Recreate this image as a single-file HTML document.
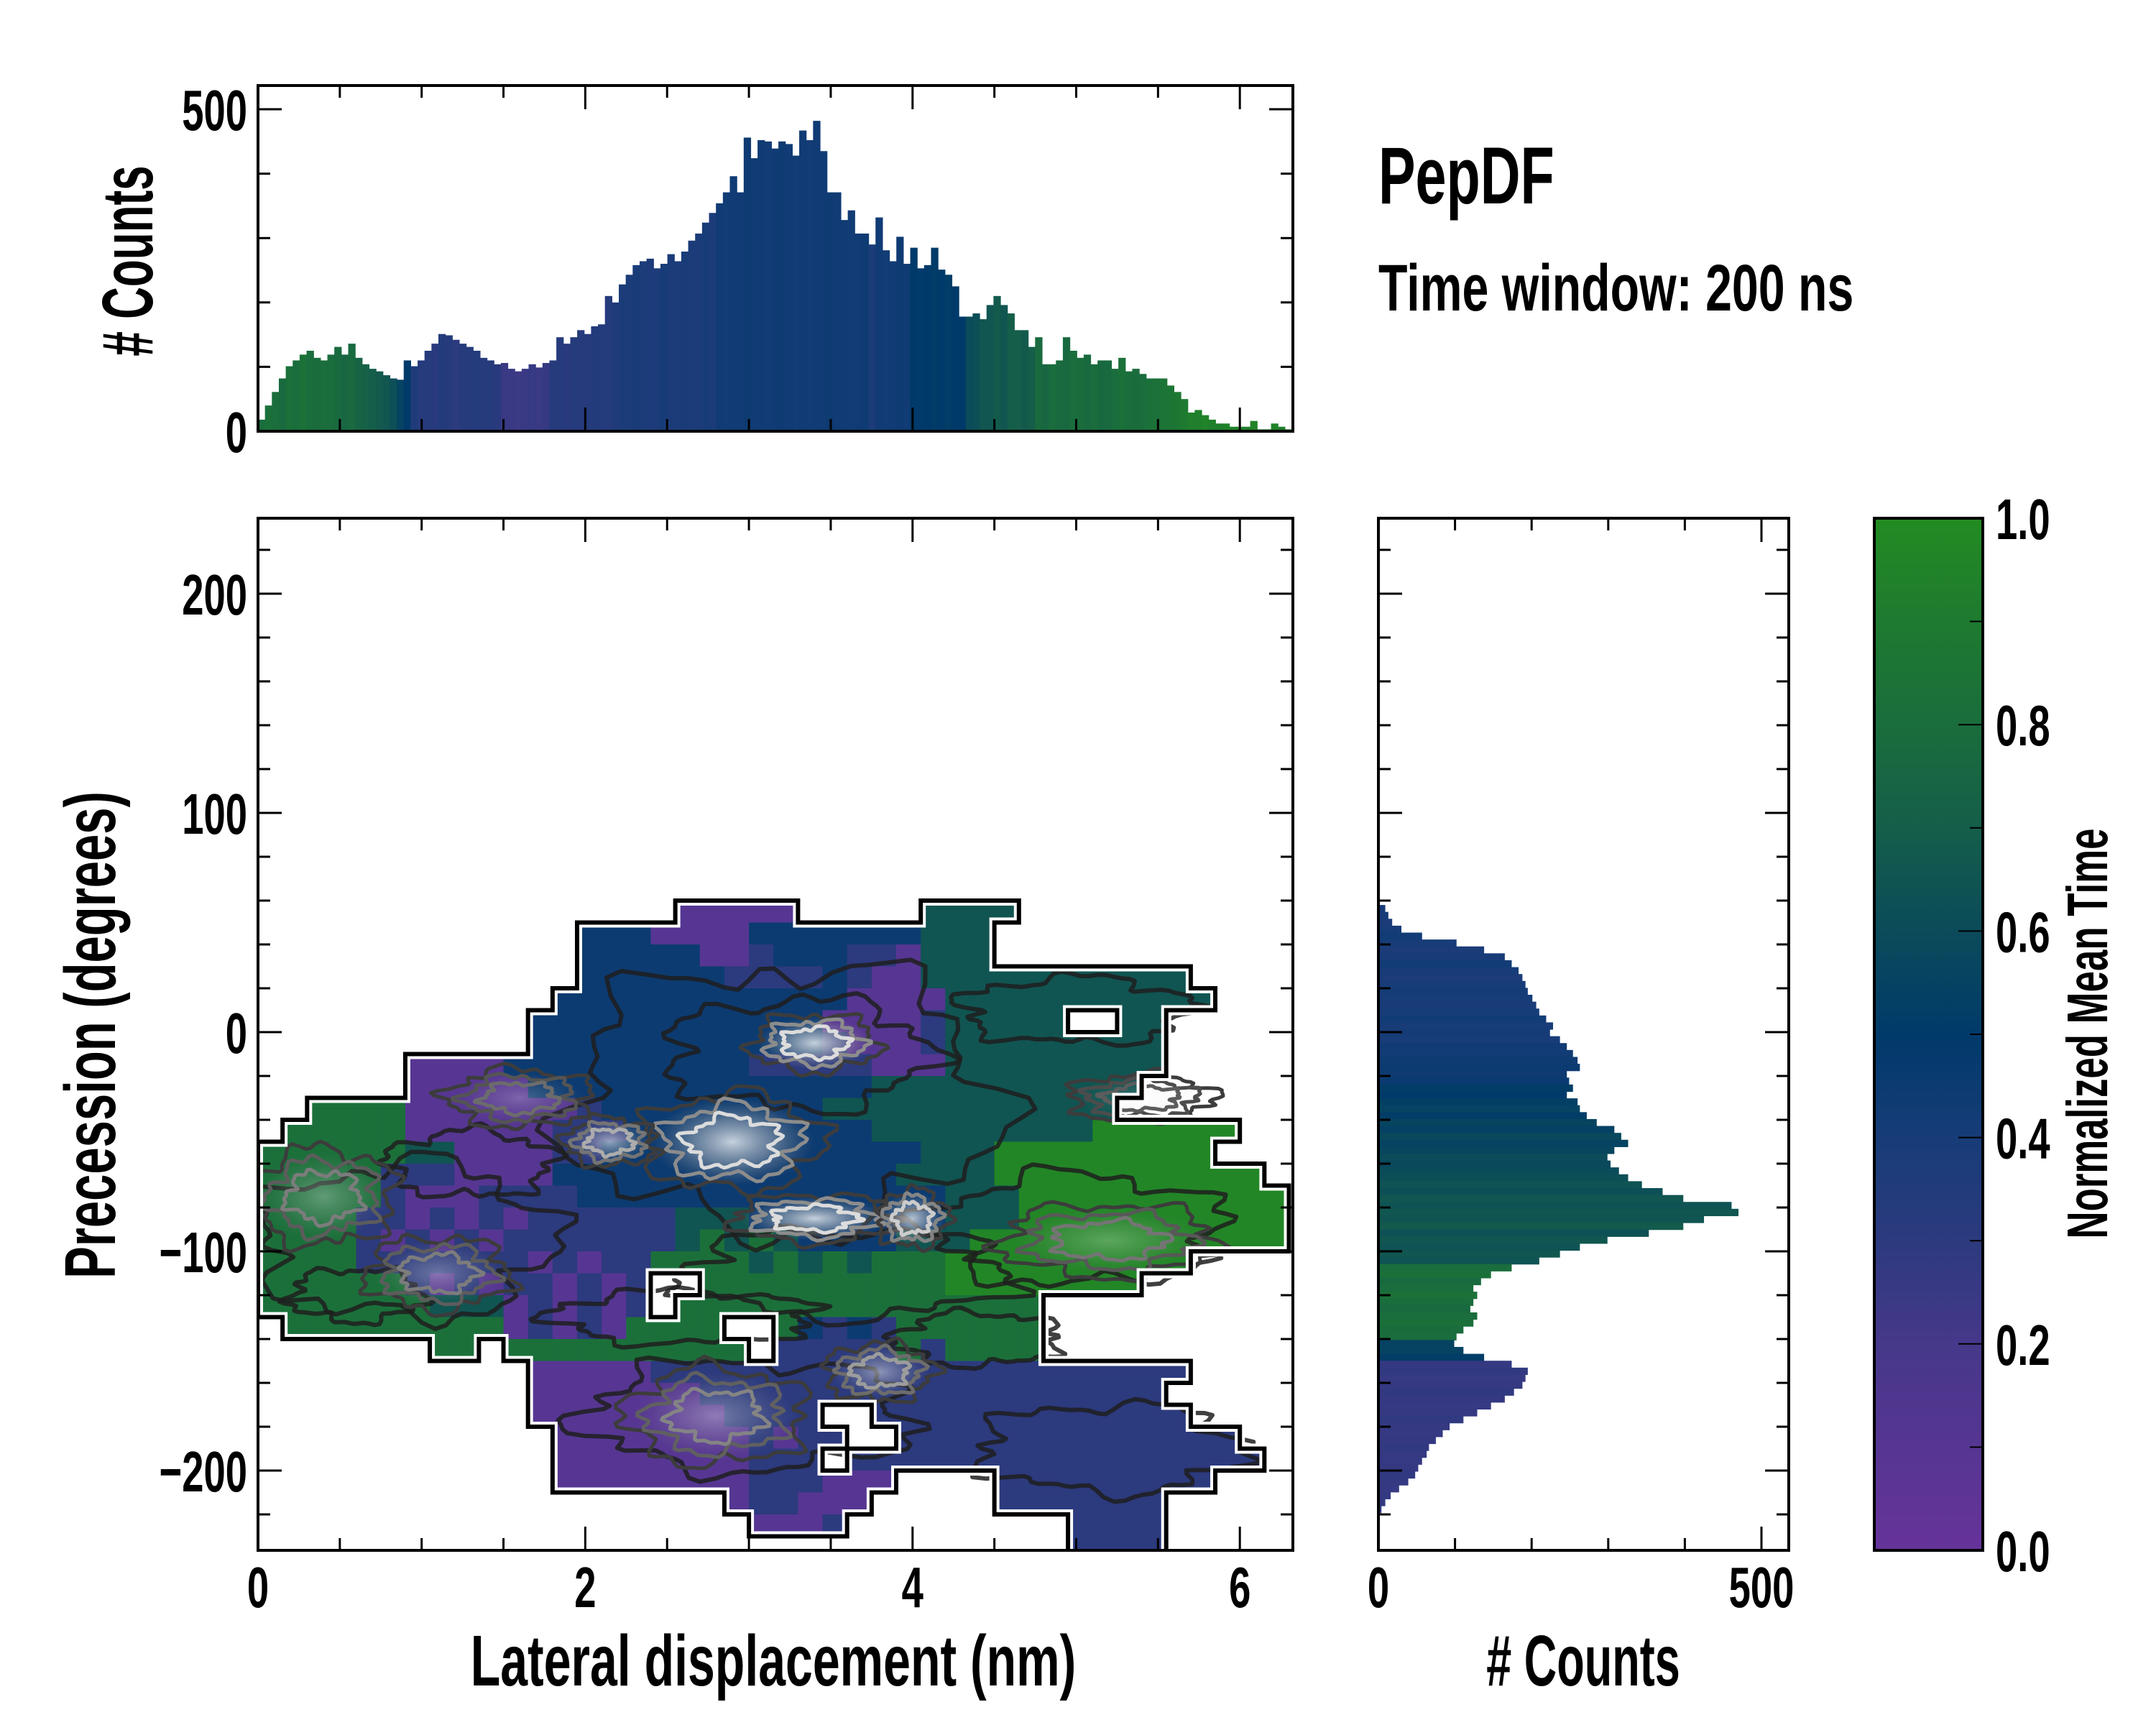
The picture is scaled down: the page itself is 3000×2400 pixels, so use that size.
<!DOCTYPE html>
<html><head><meta charset="utf-8"><style>
html,body{margin:0;padding:0;background:#fff;}
svg{display:block;}
text{font-family:"Liberation Sans",sans-serif;font-weight:bold;fill:#000;}
</style></head><body>
<svg id="fig" xmlns="http://www.w3.org/2000/svg" width="3000" height="2400" viewBox="0 0 3000 2400">
<defs>
<clipPath id="mainClip"><rect x="359" y="721" width="1440" height="1436"/></clipPath>
<linearGradient id="cbGrad" x1="0" y1="1" x2="0" y2="0">
<stop offset="0" stop-color="#66339a"/><stop offset="0.2" stop-color="#46388a"/><stop offset="0.3" stop-color="#2c3a7e"/><stop offset="0.4" stop-color="#173c78"/><stop offset="0.5" stop-color="#003a6a"/><stop offset="0.6" stop-color="#0b4b5a"/><stop offset="0.7" stop-color="#155e4a"/><stop offset="0.8" stop-color="#1a6d3c"/><stop offset="0.9" stop-color="#1e7a30"/><stop offset="1" stop-color="#238b22"/>
</linearGradient>
<radialGradient id="hot"><stop offset="0" stop-color="#ffffff" stop-opacity="0.9"/><stop offset="0.5" stop-color="#cccccc" stop-opacity="0.5"/><stop offset="1" stop-color="#888888" stop-opacity="0"/></radialGradient>
</defs>
<g id="topHist"></g>
<g id="mainPlot"></g>
<g id="rightHist"></g>
<g id="cbar"></g>
<g id="labels"></g>
</svg>
<script>
// ---------- data ----------
const topCounts = [18,40,61,82,101,110,119,125,114,110,119,131,119,136,114,104,97,93,87,82,80,110,101,110,125,136,151,149,142,136,131,125,114,110,104,106,97,93,97,104,99,106,110,146,136,146,157,151,163,166,210,200,228,243,258,264,268,253,260,275,264,279,296,307,324,339,354,371,396,371,456,424,452,450,439,450,446,428,467,452,482,435,371,371,328,343,307,307,290,332,281,264,302,260,285,253,258,285,251,243,225,178,178,183,174,196,210,196,183,157,157,131,146,104,104,110,146,125,114,119,104,110,110,97,114,93,97,89,82,82,82,71,61,50,29,33,25,18,12,12,7,7,7,16,3,3,12,7,3];
const topMeanTime = [0.8,0.82,0.8,0.78,0.82,0.8,0.83,0.8,0.79,0.81,0.8,0.78,0.76,0.78,0.74,0.72,0.7,0.68,0.66,0.62,0.55,0.5,0.36,0.33,0.33,0.32,0.35,0.33,0.3,0.33,0.33,0.34,0.33,0.33,0.32,0.25,0.25,0.24,0.25,0.26,0.25,0.27,0.33,0.33,0.32,0.34,0.33,0.33,0.35,0.34,0.33,0.36,0.38,0.38,0.39,0.38,0.37,0.38,0.4,0.38,0.38,0.39,0.38,0.38,0.4,0.38,0.43,0.42,0.43,0.43,0.44,0.43,0.43,0.42,0.43,0.44,0.43,0.42,0.43,0.42,0.43,0.43,0.44,0.43,0.43,0.42,0.43,0.44,0.38,0.43,0.42,0.43,0.44,0.43,0.5,0.49,0.5,0.51,0.5,0.52,0.5,0.5,0.6,0.62,0.66,0.66,0.68,0.66,0.7,0.7,0.68,0.7,0.78,0.76,0.8,0.78,0.77,0.8,0.79,0.78,0.8,0.77,0.78,0.8,0.82,0.8,0.79,0.8,0.82,0.83,0.85,0.86,0.88,0.9,0.93,0.93,0.95,0.93,0.92,0.94,0.95,0.96,0.93,0.95,0.93,0.94,0.95,0.93,0.95];
const topBinWidth = 0.0424;

const rightCounts = [9,13,18,30,57,102,138,165,174,183,188,192,195,201,206,210,219,228,224,237,246,254,260,263,246,249,254,246,260,263,272,285,308,317,326,308,299,303,314,326,344,371,398,461,470,425,398,353,299,263,237,210,174,147,134,124,129,124,120,129,124,111,102,99,111,138,174,195,192,188,177,165,147,129,111,93,84,75,66,63,57,52,48,39,27,16,9,4];
const rightMeanTime = [0.4,0.4,0.38,0.4,0.42,0.4,0.38,0.4,0.42,0.4,0.38,0.4,0.41,0.4,0.39,0.4,0.42,0.4,0.41,0.4,0.43,0.42,0.44,0.45,0.44,0.46,0.52,0.5,0.53,0.55,0.52,0.56,0.54,0.58,0.55,0.57,0.6,0.58,0.6,0.62,0.64,0.62,0.66,0.64,0.66,0.65,0.68,0.63,0.66,0.64,0.66,0.64,0.8,0.82,0.78,0.8,0.83,0.8,0.78,0.8,0.82,0.79,0.8,0.55,0.55,0.52,0.27,0.28,0.26,0.27,0.28,0.27,0.26,0.27,0.28,0.27,0.26,0.27,0.28,0.27,0.26,0.27,0.28,0.27,0.26,0.27,0.28,0.27];
const rightBinTop = 58;
const rightBinHeight = 3.15;

// heatmap: rows from +60 deg downward (10 deg each), cols 0.15 nm each
const gridRows = [
".................ppppp.....tttt...........",
".............nnnppppnnnnnnnttt............",
".............nnnnnppbnnnbbpttt............",
".............nnnnnnbbbbnbppttttttttttt....",
"............nnnnnnnnnnnnppppttttttttttt...",
"...........nnnnnnnnnnnnppppbttttt..tt.....",
"...........nnnnnnnnnnnnbpppbttttttttt.....",
"......ppppnnnnnnnnnnbbbbbpppttttttttt.....",
"......pppppnnnnnnnnnnnnnnttttttttttt......",
"..ggggpppppppbnnnnnnnnntttttttttttt.......",
".gggggppppppbbbnnnnnnnnnntttttttttGGGGGG...",
"ggggggttppppbbnnnnnnnnnnnnntttGGGGGGGGG...",
"gggggbbbppppnnnnnnnnnnnnnnttttGGGGGGGGGGG.",
"gggggbpppbbbbnnnnnnnnnnnnnnntttGGGGGGGGGGG",
"ggggbbpbpbpbbbbbbtttnnnnnnnntttGGGGGGGGGGG",
"ggggbpbpbpbbbbbbbtgtgtnnnntttGGGGGGGGGGGGG",
"ggggbbbbbbbpbpbbggggtgtgtgggGGGGGGGGGG....",
"ggggggbpbpbbpbpb..ggggggggggGGGGGGGG......",
"gggggggtttpbpbpb.ggggggggggggggg..........",
".gggggggggpbpbpgggg..gnbnbgggggg..........",
".......gg.gggggggggg.bbbbbgbgggg..........",
"...........pppppbbbbbbbbbbbbbbbbbbbbbb.....",
"...........pppppppbbbbbbbbbbbbbbbbbbb.....",
"...........ppppppppbbbb..bbbbbbbbbbbbb....",
"............ppppppppbpbb..bbbbbbbbbbbbbb..",
"............ppppppppbbb.bbbbbbbbbbbbbbbbb.",
"............ppppppppbbbppp....bbbbbbbbb...",
"...................pbbppp.....bbbbbbb.....",
"....................pppb.........bbbb.....",
".................................bbbb....."
];
const gridTop = 60, gridRowDeg = 10, gridColNm = 0.15;
const cellValue = {p:0.1, b:0.3, n:0.45, t:0.65, g:0.82, G:0.97};

// density hotspots: center x (nm), center y (deg), radius x (nm), radius y (deg), strength
const hotX = [3.4, 2.9, 2.15, 3.4, 4.0, 0.4, 1.1, 3.8, 2.8, 5.2, 5.4, 1.6];
const hotY = [-5, -50, -50, -85, -85, -75, -110, -155, -175, -95, -30, -30];
const hotRX = [0.35, 0.5, 0.25, 0.45, 0.2, 0.4, 0.4, 0.3, 0.5, 0.6, 0.4, 0.4];
const hotRY = [12, 20, 10, 10, 12, 20, 15, 12, 20, 15, 10, 12];
const hotS = [1, 1, 0.7, 1, 0.9, 0.4, 0.4, 0.6, 0.45, 0.35, 0.2, 0.3];
// broad dark contours
const ringX = [3.2, 0.9, 5.0, 3.0, 5.2, 5.0, 2.6, 3.6, 3.3, 1.3, 4.4, 0.6];
const ringY = [-30, -95, -90, -175, -190, 10, -130, -110, -10, -60, -140, -120];
const ringRX = [1.3, 0.9, 0.9, 1.0, 0.8, 0.7, 0.8, 1.0, 0.8, 0.5, 0.5, 0.4];
const ringRY = [60, 35, 25, 25, 20, 15, 12, 20, 25, 15, 12, 12];

// ---------- scales ----------
const NS = "http://www.w3.org/2000/svg";
const xs = v => 359 + v * 227.7;
const ys = d => 1436 - d * 3.05;
const topY = c => 600 - c * 0.896;
const rX = c => 1918 + c * 1.066;
const cbY = v => 2157 - v * 1436;
const stops = [[0,[0x66,0x33,0x9a]],[0.2,[0x46,0x38,0x8a]],[0.3,[0x2c,0x3a,0x7e]],[0.4,[0x17,0x3c,0x78]],[0.5,[0x00,0x3a,0x6a]],[0.6,[0x0b,0x4b,0x5a]],[0.7,[0x15,0x5e,0x4a]],[0.8,[0x1a,0x6d,0x3c]],[0.9,[0x1e,0x7a,0x30]],[1,[0x23,0x8b,0x22]]];
function cmap(v){
  v=Math.max(0,Math.min(1,v));
  for(let i=1;i<stops.length;i++){
    if(v<=stops[i][0]){const a=stops[i-1],b=stops[i];const t=(v-a[0])/(b[0]-a[0]);
      const c=a[1].map((x,k)=>Math.round(x+(b[1][k]-x)*t));return `rgb(${c[0]},${c[1]},${c[2]})`;}
  }
  return 'rgb(35,139,34)';
}
function mk(tag, attrs, parent){const e=document.createElementNS(NS,tag);for(const k in attrs)e.setAttribute(k,attrs[k]);parent.appendChild(e);return e;}
function txt(parent, s, x, y, size, anchor, sx, rot){
  const g=mk('g',{transform:`translate(${x},${y})`+(rot?` rotate(${rot})`:'')+` scale(${sx},1)`},parent);
  const t=mk('text',{x:0,y:0,'font-size':size,'text-anchor':anchor},g);
  t.textContent=s;return t;
}
function line(parent,x1,y1,x2,y2,w){return mk('line',{x1,y1,x2,y2,stroke:'#000','stroke-width':w},parent);}
// wobbly closed contour shape (styling only)
function blob(cx,cy,rx,ry,seed){
  const pts=[];const N=90;
  for(let k=0;k<N;k++){const th=k/N*2*Math.PI;
    const f=1+0.13*Math.sin(5*th+seed)+0.08*Math.sin(11*th+2.3*seed)+0.05*Math.sin(19*th+3.1*seed);
    pts.push((cx+rx*f*Math.cos(th)).toFixed(1)+','+(cy+ry*f*Math.sin(th)).toFixed(1));}
  return pts.join(' ');
}

// ---------- top histogram ----------
const topG=document.getElementById('topHist');
topCounts.forEach((c,i)=>{
  const x0=xs(i*topBinWidth), x1=xs((i+1)*topBinWidth);
  const r=mk('rect',{x:x0,y:topY(c),width:x1-x0+0.6,height:600-topY(c),fill:cmap(topMeanTime[i])},topG);
  
  
});
for(let v=0.5;v<6.3;v+=0.5){const maj=Math.abs(v-Math.round(v/2)*2)<1e-6;const L=maj?33:17;
  line(topG,xs(v),600,xs(v),600-L,3);line(topG,xs(v),119,xs(v),119+L,3);}
for(let c=100;c<=500;c+=100){const L=(c===500)?33:17;line(topG,359,topY(c),359+L,topY(c),3);line(topG,1799,topY(c),1799-L,topY(c),3);}
mk('rect',{x:359,y:119,width:1440,height:481,fill:'none',stroke:'#000','stroke-width':4},topG);
txt(topG,'500',344,181,80,'end',0.68);
txt(topG,'0',344,629,80,'end',0.68);

// ---------- main heatmap ----------
const mainG=document.getElementById('mainPlot');
const hm=mk('g',{'clip-path':'url(#mainClip)'},mainG);
const cw=gridColNm*227.7, ch=gridRowDeg*3.05;
const filled=(r,c)=>r>=0&&r<gridRows.length&&c>=0&&c<42&&gridRows[r][c]&&gridRows[r][c]!=='.'&&cellValue[gridRows[r][c]]!==undefined;
gridRows.forEach((row,r)=>{
  for(let c=0;c<42;c++){
    if(!filled(r,c))continue;
    const cell=mk('rect',{x:xs(c*gridColNm),y:ys(gridTop-r*gridRowDeg),width:cw+0.7,height:ch+0.7,fill:cmap(cellValue[row[c]])},hm);
    
    
  }
});
// broad dark contours
ringX.forEach((x,i)=>{
  const e=mk('polygon',{points:blob(xs(x),ys(ringY[i]),ringRX[i]*227.7,ringRY[i]*3.05,i*1.7+0.4),fill:'none',stroke:'#1e1e1e','stroke-width':6,'stroke-linejoin':'round','stroke-opacity':0.85},hm);
  
  
});
// hotspots
hotX.forEach((x,i)=>{
  const cx=xs(x),cy=ys(hotY[i]),rx=hotRX[i]*227.7,ry=hotRY[i]*3.05,s=hotS[i];
  const g=mk('g',{},hm);
  
  
  mk('ellipse',{cx,cy,rx,ry,fill:'url(#hot)',opacity:s*0.85},g);
  const n=3;
  for(let k=0;k<n;k++){
    const f=1.1-k/n*0.8;const gray=Math.round(60+(k/(n-1))*160*s);
    mk('polygon',{points:blob(cx,cy,rx*f,ry*f,i*2.1+k*0.9),fill:'none',stroke:`rgb(${gray},${gray},${gray})`,'stroke-width':5,'stroke-linejoin':'round'},g);
  }
});
// outline
const ol=mk('g',{},hm);


const segs=[];
gridRows.forEach((row,r)=>{for(let c=0;c<42;c++){if(!filled(r,c))continue;
  const x0=xs(c*gridColNm),x1=x0+cw,y0=ys(gridTop-r*gridRowDeg),y1=y0+ch;
  if(!filled(r-1,c))segs.push([x0,y0,x1,y0]);
  if(!filled(r+1,c))segs.push([x0,y1,x1,y1]);
  if(!filled(r,c-1))segs.push([x0,y0,x0,y1]);
  if(!filled(r,c+1))segs.push([x1,y0,x1,y1]);
}});
const dPath=segs.map(s=>`M${s[0]},${s[1]}L${s[2]},${s[3]}`).join('');
mk('path',{d:dPath,stroke:'#fff','stroke-width':14,'stroke-linecap':'square',fill:'none'},ol);
mk('path',{d:dPath,stroke:'#000','stroke-width':6,'stroke-linecap':'square',fill:'none'},ol);
// axes ticks
for(let v=0.5;v<6.3;v+=0.5){const maj=Math.abs(v-Math.round(v/2)*2)<1e-6;const L=maj?33:17;
  line(mainG,xs(v),2157,xs(v),2157-L,3);line(mainG,xs(v),721,xs(v),721+L,3);}
for(let d=-220;d<=220;d+=20){const maj=d%100===0;const L=maj?33:17;
  line(mainG,359,ys(d),359+L,ys(d),3);line(mainG,1799,ys(d),1799-L,ys(d),3);}
mk('rect',{x:359,y:721,width:1440,height:1436,fill:'none',stroke:'#000','stroke-width':4},mainG);
[[0,'0'],[2,'2'],[4,'4'],[6,'6']].forEach(([v,s])=>txt(mainG,s,xs(v),2236,80,'middle',0.68));
[[200,'200'],[100,'100'],[0,'0'],[-100,'\u2212100'],[-200,'\u2212200']].forEach(([v,s])=>txt(mainG,s,344,ys(v)+29,80,'end',0.68));

// ---------- right histogram ----------
const rG=document.getElementById('rightHist');
rightCounts.forEach((c,i)=>{
  const y0=ys(rightBinTop-i*rightBinHeight), y1=ys(rightBinTop-(i+1)*rightBinHeight);
  const r=mk('rect',{x:1918,y:y0,width:rX(c)-1918,height:y1-y0+0.6,fill:cmap(rightMeanTime[i])},rG);
  
  
});
for(let c=100;c<=500;c+=100){const L=c===500?33:17;line(rG,rX(c),2157,rX(c),2157-L,3);line(rG,rX(c),721,rX(c),721+L,3);}
for(let d=-220;d<=220;d+=20){const maj=d%100===0;const L=maj?33:17;
  line(rG,1918,ys(d),1918+L,ys(d),3);line(rG,2489,ys(d),2489-L,ys(d),3);}
mk('rect',{x:1918,y:721,width:571,height:1436,fill:'none',stroke:'#000','stroke-width':4},rG);
txt(rG,'0',1918,2236,80,'middle',0.68);
txt(rG,'500',2451,2236,80,'middle',0.68);

// ---------- colorbar ----------
const cG=document.getElementById('cbar');
mk('rect',{x:2608,y:721,width:151,height:1436,fill:'url(#cbGrad)',stroke:'#000','stroke-width':4},cG);
for(let k=1;k<10;k++){const v=k/10;const L=k%2===0?32:16;line(cG,2757,cbY(v),2757-L,cbY(v),2);}
['0.0','0.2','0.4','0.6','0.8','1.0'].forEach((s,k)=>txt(cG,s,2777,cbY(k*0.2)+29,80,'start',0.68));
txt(cG,'Normalized Mean Time',2932,1438,80,'middle',0.66,-90);

// ---------- labels ----------
const L=document.getElementById('labels');
txt(L,'# Counts',212,363,100,'middle',0.62,-90);
txt(L,'Precession (degrees)',160,1440,100,'middle',0.67,-90);
txt(L,'Lateral displacement (nm)',1076,2345,100,'middle',0.68);
txt(L,'# Counts',2203,2345,100,'middle',0.63);
txt(L,'PepDF',1918,283,112,'start',0.69);
txt(L,'Time window: 200 ns',1918,432,92,'start',0.72);
</script>
</body></html>
